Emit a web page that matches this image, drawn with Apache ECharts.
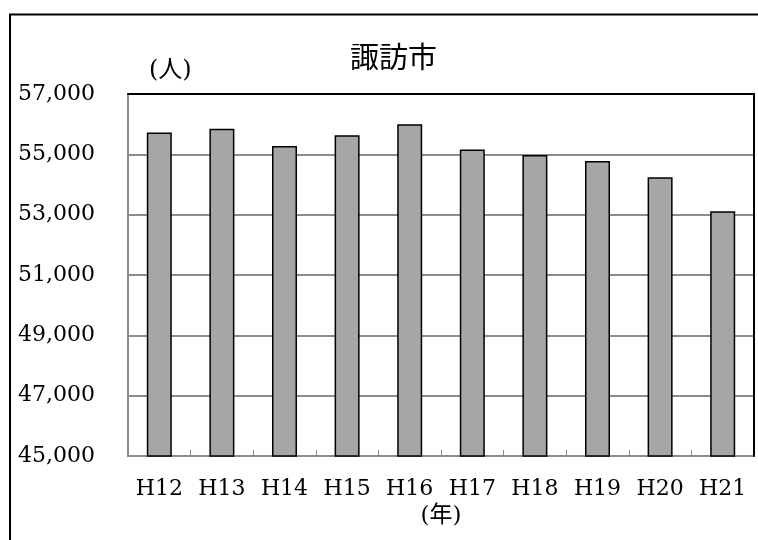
<!DOCTYPE html>
<html>
<head>
<meta charset="utf-8">
<script src="https://cdn.jsdelivr.net/npm/echarts@6/dist/echarts.min.js"></script>
<style>
  html, body { margin: 0; padding: 0; background: #fff; }
  #chart { width: 758px; height: 540px; }
</style>
</head>
<body>
<div id="chart"></div>
<script>
const titleText = '諏訪市';
const years = ['H12', 'H13', 'H14', 'H15', 'H16', 'H17', 'H18', 'H19', 'H20', 'H21'];
const population = [55720, 55850, 55280, 55630, 56000, 55160, 54980, 54780, 54240, 53110];
const yMin = 45000;
const yMax = 57000;
const yStep = 2000;
const unitLabel = '(人)';
const xName = '(年)';

const serif = '"DejaVu Serif", "Noto Sans CJK JP", serif';

const chart = echarts.init(document.getElementById('chart'), null, { renderer: 'canvas' });

chart.setOption({
    backgroundColor: '#fff',
    animation: false,
    title: {
        text: titleText,
        left: 345,
        top: 37,
        textStyle: {
            fontFamily: '"Noto Sans CJK JP", sans-serif',
            fontSize: 29,
            fontWeight: 'normal',
            color: '#000'
        }
    },
    graphic: [
        {
            type: 'rect',
            shape: { x: 10, y: 14.5, width: 900, height: 700 },
            style: { fill: 'none', stroke: '#000', lineWidth: 2 },
            silent: true
        },
        {
            type: 'text',
            left: 149,
            top: 59,
            style: {
                text: unitLabel,
                font: '24px ' + serif,
                fill: '#000'
            }
        }
    ],
    grid: {
        left: 128,
        right: 4,
        top: 94,
        bottom: 84
    },
    xAxis: [
        {
            type: 'category',
            data: years,
            name: xName,
            nameLocation: 'middle',
            nameGap: 41,
            nameTextStyle: { fontFamily: serif, fontSize: 23, color: '#000' },
            axisLine: { show: true, lineStyle: { color: '#8c8c8c', width: 2 } },
            axisTick: { show: true, inside: true, length: 6, lineStyle: { color: '#8c8c8c', width: 1 } },
            axisLabel: { fontFamily: serif, fontSize: 22, color: '#000', margin: 22 },
            z: 5
        },
        {
            type: 'category',
            data: years,
            position: 'top',
            axisLine: { show: true, lineStyle: { color: '#000', width: 2 } },
            axisTick: { show: false },
            axisLabel: { show: false },
            z: 7
        }
    ],
    yAxis: [
        {
            type: 'value',
            min: yMin,
            max: yMax,
            interval: yStep,
            axisLine: { show: true, lineStyle: { color: '#8c8c8c', width: 2 } },
            axisTick: { show: false },
            axisLabel: {
                fontFamily: serif,
                fontSize: 22,
                color: '#000',
                margin: 33,
                formatter: v => v.toLocaleString('en-US')
            },
            splitLine: { show: true, lineStyle: { color: '#8c8c8c', width: 2 } },
            z: 5
        },
        {
            type: 'value',
            min: yMin,
            max: yMax,
            interval: yStep,
            position: 'right',
            axisLine: { show: true, lineStyle: { color: '#000', width: 2 } },
            axisTick: { show: false },
            axisLabel: { show: false },
            splitLine: { show: false },
            z: 7
        }
    ],
    series: [
        {
            type: 'bar',
            data: population,
            barWidth: 25,
            itemStyle: {
                color: '#a6a6a6',
                borderColor: '#000',
                borderWidth: 1.5
            },
            z: 6
        }
    ]
});
</script>
</body>
</html>
